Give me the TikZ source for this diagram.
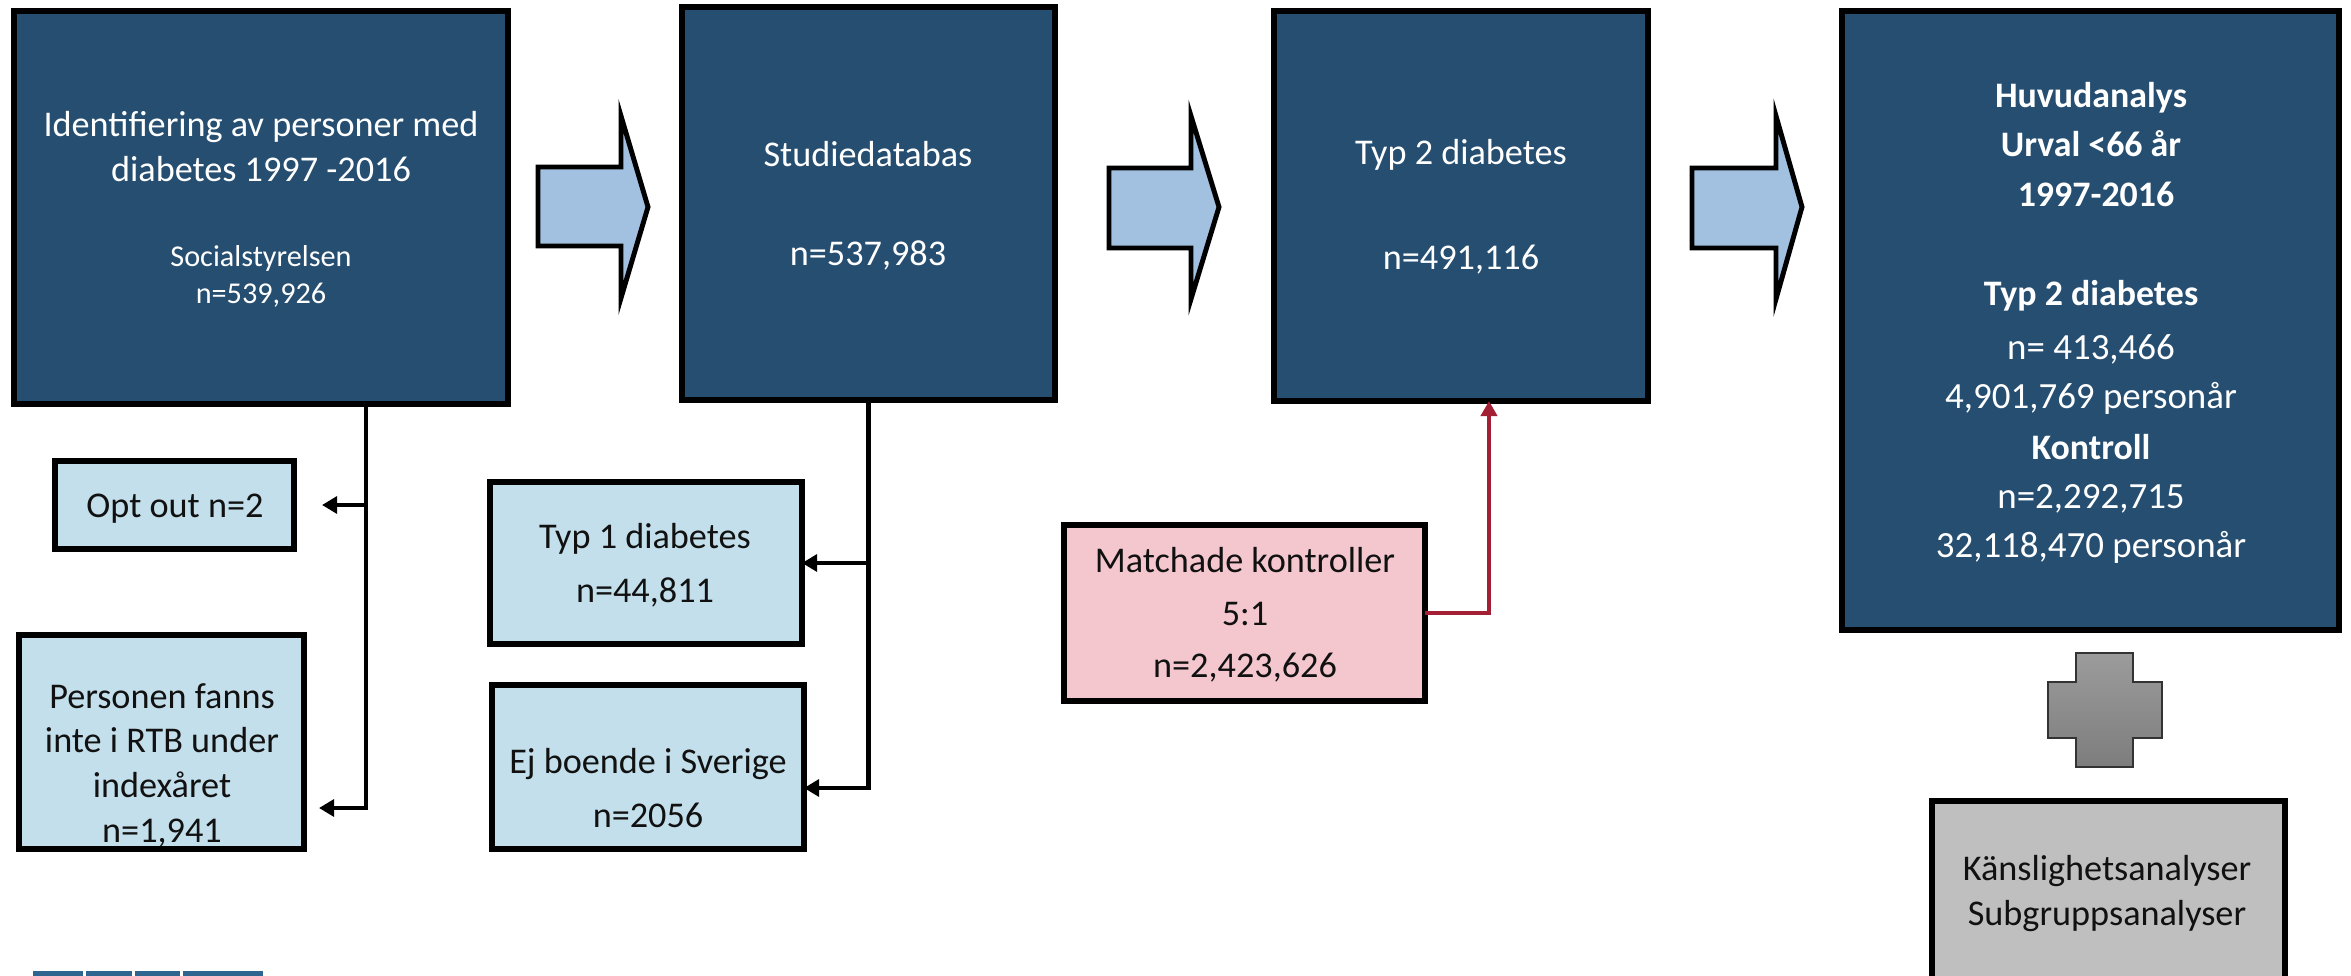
\documentclass[tikz,border=0pt]{standalone}
\usepackage{fontspec}
\setmainfont{Carlito}
\usetikzlibrary{arrows.meta,fit}
\definecolor{navy}{HTML}{264E70}
\definecolor{lightbox}{HTML}{C3DFEB}
\definecolor{arrowfill}{HTML}{A2C1E0}
\definecolor{pinkbox}{HTML}{F4C7CF}
\definecolor{graybox}{HTML}{BFBFBF}
\definecolor{redline}{HTML}{A31F34}
\definecolor{barblue}{HTML}{2F6690}
\definecolor{txt}{HTML}{111111}
\tikzset{
  darkbox/.style={draw=black, line width=1.85pt, fill=navy, inner sep=0pt, outer sep=0pt},
  lbox/.style={draw=black, line width=1.7pt, fill=lightbox, inner sep=0pt, outer sep=0pt},
  pbox/.style={draw=black, line width=1.7pt, fill=pinkbox, inner sep=0pt, outer sep=0pt},
  gbox/.style={draw=black, line width=1.7pt, fill=graybox, inner sep=0pt, outer sep=0pt},
  blockarrow/.style={draw=black, line width=1.4pt, fill=arrowfill, line join=miter, miter limit=20},
  conn/.style={draw=black, line width=1.4pt, -{Triangle[length=4.3pt,width=4.8pt]}},
  redconn/.style={draw=redline, line width=1.4pt, -{Triangle[length=4.3pt,width=4.6pt]}},
  wt/.style={anchor=base, text=white, inner sep=0pt, font=\fontsize{10.3}{12}\selectfont},
  wts/.style={anchor=base, text=white, inner sep=0pt, font=\fontsize{8.6}{10}\selectfont},
  bt/.style={anchor=base, text=txt, inner sep=0pt, font=\fontsize{10.3}{12}\selectfont},
  ht/.style={anchor=base, text=white, inner sep=0pt, font=\bfseries\fontsize{10.2}{12}\selectfont},
  hn/.style={anchor=base, text=white, inner sep=0pt, font=\fontsize{10.5}{12}\selectfont},
}
\begin{document}
\begin{tikzpicture}[x=0.01cm,y=-0.01cm]
\useasboundingbox (0,0) rectangle (2351,976);

% main boxes
\node[darkbox, fit={(14,11) (508,404)}] (b1) {};
\node[darkbox, fit={(682,7) (1055,400)}] (b2) {};
\node[darkbox, fit={(1274,11) (1648,401)}] (b3) {};
\node[darkbox, fit={(1842,11) (2339,630)}] (b4) {};

% side boxes
\node[lbox, fit={(55,461) (294,549)}] (opt) {};
\node[lbox, fit={(19,635) (304,849)}] (pers) {};
\node[lbox, fit={(490,482) (802,644)}] (typ1) {};
\node[lbox, fit={(492,685) (804,849)}] (ej) {};
\node[pbox, fit={(1064,525) (1425,701)}] (match) {};
\node[gbox, fit={(1932,801) (2285,990)}] (sens) {};

% block arrows
\draw[blockarrow] (538,167) -- (621,167) -- (621,116) -- (648,207) -- (621,298) -- (621,246) -- (538,246) -- cycle;
\draw[blockarrow] (1109,168) -- (1191,168) -- (1191,116) -- (1219,207) -- (1191,299) -- (1191,248) -- (1109,248) -- cycle;
\draw[blockarrow] (1692,168) -- (1776,168) -- (1776,116) -- (1802,207) -- (1776,299) -- (1776,248) -- (1692,248) -- cycle;

% plus
\shade[top color=gray!78, bottom color=gray!98!black, draw=black!80, line width=0.45pt]
  (2076,653) -- (2133,653) -- (2133,682) -- (2162,682) -- (2162,738) -- (2133,738) -- (2133,767)
  -- (2076,767) -- (2076,738) -- (2048,738) -- (2048,682) -- (2076,682) -- cycle;

% bottom-left bars
\fill[barblue] (33,971) rectangle (83,985);
\fill[barblue] (86,971) rectangle (132,985);
\fill[barblue] (135,971) rectangle (180,985);
\fill[barblue] (183,971) rectangle (263,985);

% connectors
\coordinate (v1) at (366,404);
\coordinate (e1) at (0,808);
\draw[conn, shorten >=0.15cm] (b1.south -| v1) |- (pers.east |- e1);
\draw[conn, shorten >=0.28cm] (v1 |- opt.east) -- (opt.east);

\coordinate (e2) at (0,788);
\draw[conn] (b2.south) |- (ej.east |- e2);
\draw[conn] (b2.south |- typ1.east) -- (typ1.east);

\coordinate (v3) at (1489,404);
\draw[redconn] (match.east) -| (b3.south -| v3);

% texts box 1
\node[wt] (t1a) at (261,137) {Identifiering av personer med};
\node[wt] (t1b) at (261,182) {diabetes 1997 -2016};
\node[wts] (t1c) at (261,267) {Socialstyrelsen};
\node[wts] (t1d) at (261,304) {n=539,926};
% box 2
\node[wt] (t2a) at (868,167) {Studiedatabas};
\node[wt] (t2b) at (868,265) {n=537,983};
% box 3
\node[wt] (t3a) at (1461,165) {Typ 2 diabetes};
\node[wt] (t3b) at (1461,270) {n=491,116};
% box 4
\node[ht] (t4a) at (2091,108) {Huvudanalys};
\node[ht] (t4b) at (2091,157) {Urval <66 år};
\node[ht] (t4c) at (2096,206) {1997-2016};
\node[ht] (t4d) at (2091,306) {Typ 2 diabetes};
\node[hn] (t4e) at (2091,359) {n= 413,466};
\node[hn] (t4f) at (2091,408) {4,901,769 personår};
\node[ht] (t4g) at (2091,459) {Kontroll};
\node[hn] (t4h) at (2091,508) {n=2,292,715};
\node[hn] (t4i) at (2091,557) {32,118,470 personår};
% side texts
\node[bt] (to) at (175,517) {Opt out n=2};
\node[bt] (tpa) at (162,708) {Personen fanns};
\node[bt] (tpb) at (162,752) {inte i RTB under};
\node[bt] (tpc) at (162,797) {indexåret};
\node[bt] (tpd) at (162,842) {n=1,941};
\node[bt] (tta) at (645,548) {Typ 1 diabetes};
\node[bt] (ttb) at (645,602) {n=44,811};
\node[bt] (tea) at (648,773) {Ej boende i Sverige};
\node[bt] (teb) at (648,827) {n=2056};
\node[bt] (tma) at (1245,572) {Matchade kontroller};
\node[bt] (tmb) at (1245,625) {5:1};
\node[bt] (tmc) at (1245,677) {n=2,423,626};
\node[bt] (tsa) at (2107,880) {Känslighetsanalyser};
\node[bt] (tsb) at (2107,925) {Subgruppsanalyser};
\end{tikzpicture}
\end{document}
